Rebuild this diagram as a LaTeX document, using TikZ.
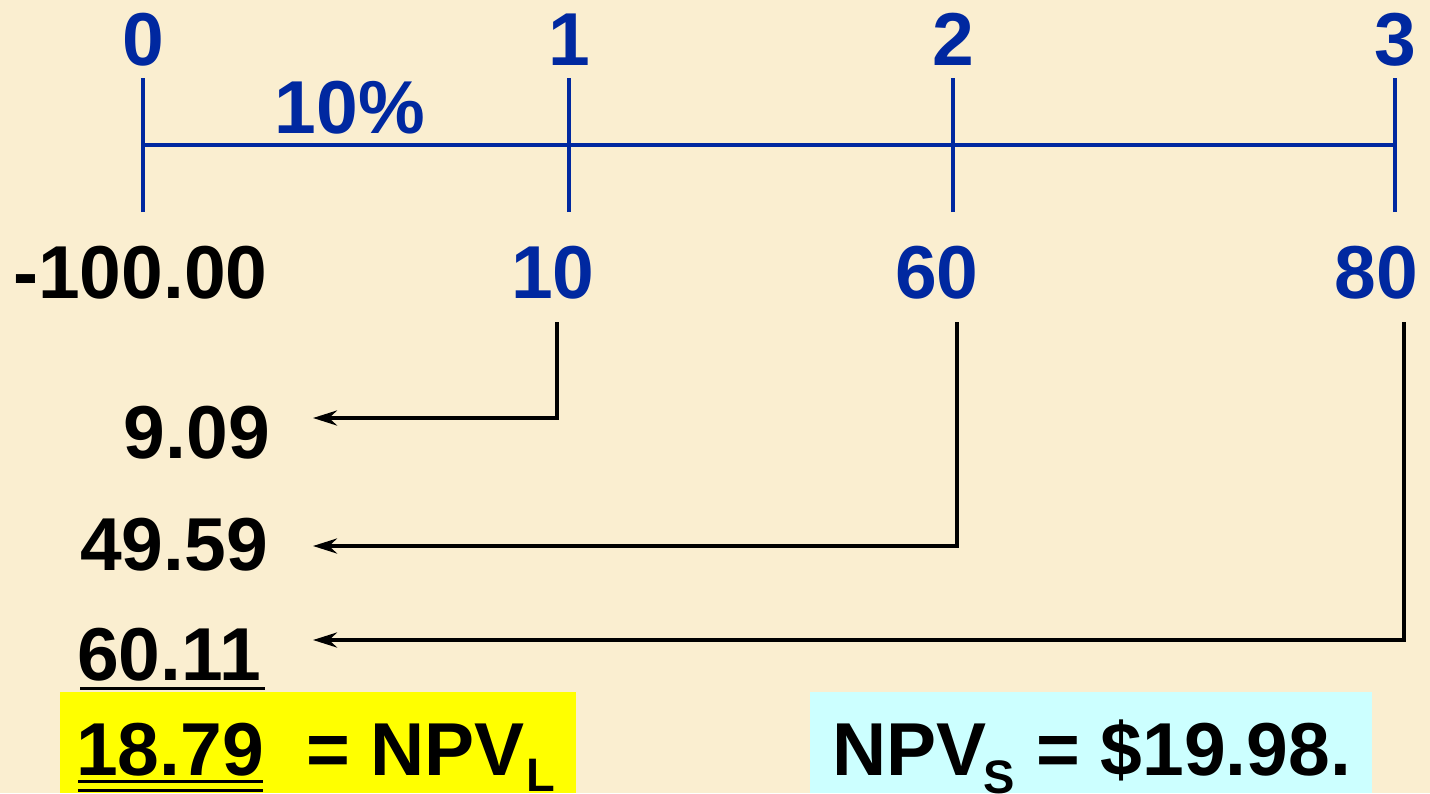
\documentclass[tikz,border=0pt]{standalone}
\usepackage{fontspec}
\setmainfont{Liberation Sans}
\usetikzlibrary{arrows.meta}
\definecolor{bg}{RGB}{250,238,208}
\definecolor{tlblue}{RGB}{0,40,160}
\definecolor{boxyellow}{RGB}{255,255,0}
\definecolor{boxcyan}{RGB}{204,255,255}
\begin{document}
\begin{tikzpicture}[x=1pt,y=-1pt,
  big/.style={inner sep=0pt,font=\fontsize{75}{90}\selectfont\bfseries},
  sub/.style={inner sep=0pt,font=\fontsize{47}{56}\selectfont\bfseries},
  bluetxt/.style={big,text=tlblue},
  blacktxt/.style={big,text=black},
  tline/.style={draw=tlblue,line width=4pt},
  arr/.style={draw=black,line width=4.5pt,-{Stealth[length=24pt,width=15pt,inset=8pt]}},
  uline/.style={draw=black,line width=3pt}]
\fill[bg] (0,0) rectangle (1430,793);
\useasboundingbox (0,0) rectangle (1430,793);
% boxes
\fill[boxyellow] (60,692) rectangle (576,793);
\fill[boxcyan] (810,692) rectangle (1372,793);
% timeline
\coordinate (t0) at (143,145);
\coordinate (t1) at (569,145);
\coordinate (t2) at (953,145);
\coordinate (t3) at (1395,145);
\draw[tline] (t0) -- (t3);
\foreach \i in {0,1,2,3}{\draw[tline] ([yshift=-67pt]t\i) -- ([yshift=67pt]t\i);}
\node[bluetxt,anchor=base] (p0) at (143,65) {0};
\node[bluetxt,anchor=base] (p1) at (569,65) {1};
\node[bluetxt,anchor=base] (p2) at (953,65) {2};
\node[bluetxt,anchor=base] (p3) at (1395,65) {3};
\node[bluetxt,anchor=base] (rate) at (350,133) {10\%};
% cash flows
\node[blacktxt,anchor=base west] (cf0) at (13,298) {-100.00};
\node[bluetxt,anchor=base] (cf1) at (553,298) {10};
\node[bluetxt,anchor=base] (cf2) at (937,298) {60};
\node[bluetxt,anchor=base] (cf3) at (1376,298) {80};
% present values
\node[blacktxt,anchor=base east] (pv1) at (270,458) {9.09};
\node[blacktxt,anchor=base east] (pv2) at (268,570) {49.59};
\node[blacktxt,anchor=base east] (pv3) at (261,680) {60.11};
% arrows
\coordinate (s1) at (557,322);
\coordinate (s2) at (957,322);
\coordinate (s3) at (1404,322);
\coordinate (e1) at (313,418);
\coordinate (e2) at (313,546);
\coordinate (e3) at (313,640);
\draw[arr] (s1) |- (e1);
\draw[arr] (s2) |- (e2);
\draw[arr] (s3) |- (e3);
% underline of 60.11
\draw[uline] (80,688) -- (265,688);
% NPV L
\node[blacktxt,anchor=base west] (npvl) at (76,775) {18.79};
\draw[uline] (78,781) -- (263,781);
\draw[uline] (78,790) -- (263,790);
\node[blacktxt,anchor=base west] (eql) at (306,775) {= NPV};
\node[sub,anchor=base west] (subl) at (526,791) {L};
% NPV S
\node[blacktxt,anchor=base west] (npvs) at (832,775) {NPV};
\node[sub,anchor=base west] (subs) at (983,793) {S};
\node[blacktxt,anchor=base west] (vals) at (1036,775) {= \$19.98.};
\end{tikzpicture}
\end{document}
